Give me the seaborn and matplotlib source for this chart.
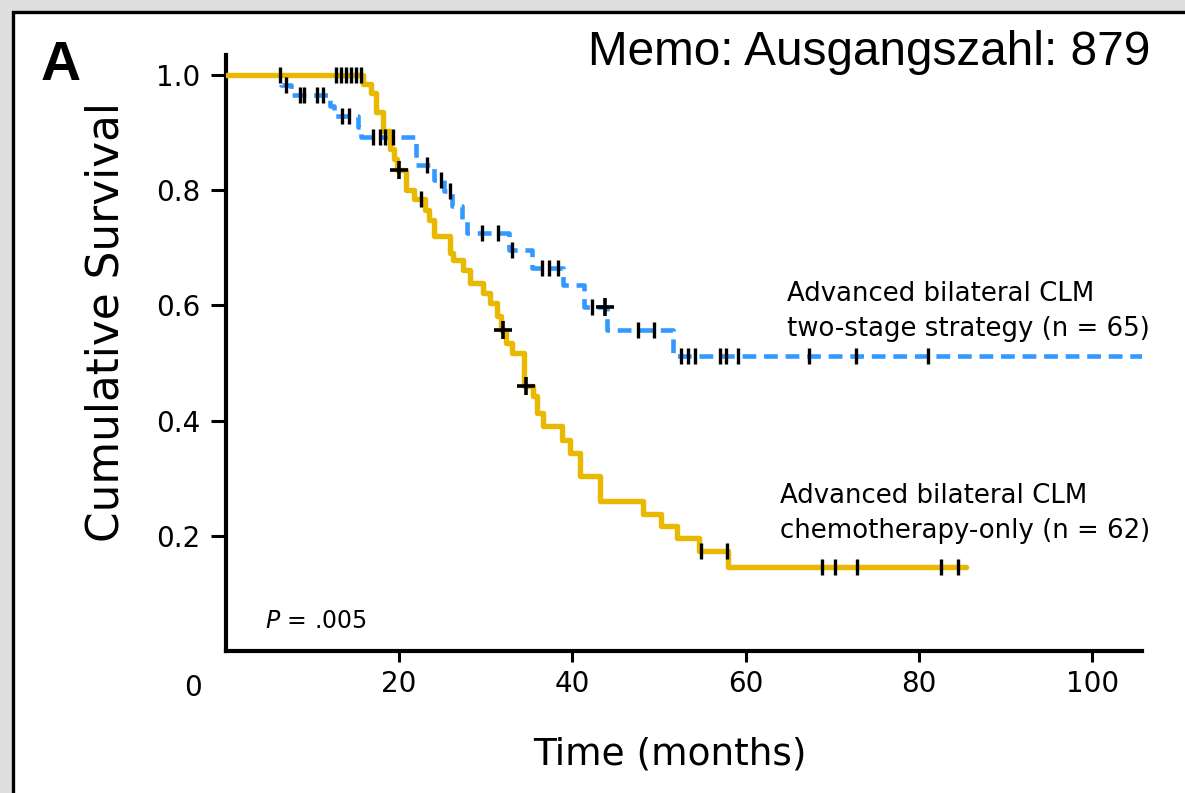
import numpy as np
import pandas as pd
import matplotlib
matplotlib.use("Agg")
import matplotlib.pyplot as plt
import seaborn as sns
from matplotlib.patches import Rectangle
from matplotlib.transforms import ScaledTranslation

# ---------------- data ----------------
chemo_times = [0, 15.9, 16.8, 17.4, 18.2, 19.0, 19.4, 19.8, 20.8, 21.7, 23.0, 23.5, 24.0,
               25.9, 26.3, 27.4, 28.2, 29.7, 30.5, 31.3, 31.8, 32.4, 33.0, 34.4,
               35.5, 35.9, 36.6, 38.8, 39.7, 40.9, 43.2, 48.2, 50.2, 52.1, 54.6, 58.0, 85.4]
chemo_surv = [1.0, 0.984, 0.968, 0.935, 0.903, 0.871, 0.855, 0.835, 0.800, 0.785, 0.765, 0.749, 0.720,
              0.691, 0.679, 0.662, 0.639, 0.622, 0.605, 0.581, 0.558, 0.535, 0.518, 0.460,
              0.443, 0.414, 0.391, 0.367, 0.344, 0.304, 0.261, 0.237, 0.217, 0.197, 0.174, 0.145, 0.145]
chemo_censor = [6.3, 12.7, 13.3, 13.9, 14.5, 15.1, 15.6, 22.6, 54.9, 57.9,
                68.8, 70.3, 72.8, 82.6, 84.5]
chemo_plus = [20.0, 32.0, 34.7]

twostage_times = [0, 6.4, 7.6, 12.0, 12.5, 15.3, 15.6, 22.0, 24.0, 25.2, 26.1, 27.3, 27.9,
                  32.7, 35.4, 38.9, 41.4, 44.0, 51.6, 105.8]
twostage_surv = [1.0, 0.982, 0.965, 0.947, 0.929, 0.910, 0.892, 0.844, 0.818, 0.798, 0.772, 0.749, 0.726,
                 0.697, 0.665, 0.636, 0.598, 0.558, 0.512, 0.512]
twostage_censor = [7.0, 8.6, 9.1, 10.6, 11.2, 13.4, 14.3, 17.0, 17.8, 18.4, 19.3, 23.3, 24.9, 25.9,
                   29.6, 31.4, 33.1, 36.5, 37.3, 38.4, 42.3, 47.6, 49.4, 52.5, 53.3, 54.2,
                   57.1, 57.7, 59.1, 67.3, 72.7, 81.0]
twostage_plus = [43.8]

x_ticks = [20, 40, 60, 80, 100]
y_ticks = [0.2, 0.4, 0.6, 0.8, 1.0]
y_ticklabels = ["0.2", "0.4", "0.6", "0.8", "1.0"]

label_two = ["Advanced bilateral CLM", "two-stage strategy (n = 65)"]
label_chemo = ["Advanced bilateral CLM", "chemotherapy-only (n = 62)"]

YELLOW = "#E8B900"
BLUE = "#3399FF"

# ---------------- style ----------------
sns.set_style("ticks")
plt.rcParams["font.family"] = ["DejaVu Sans"]
plt.rcParams["text.color"] = "black"
plt.rcParams["axes.labelcolor"] = "black"
plt.rcParams["xtick.color"] = "black"
plt.rcParams["ytick.color"] = "black"

W, H = 1185, 793
fig = plt.figure(figsize=(W / 100, H / 100), dpi=100)
fig.patch.set_facecolor("#dedede")
fig.patches.append(Rectangle((12.5 / W, -0.1), 1.2, (H - 12) / H + 0.1,
                             transform=fig.transFigure, facecolor="white",
                             edgecolor="black", linewidth=2.4, zorder=-5))

ax = fig.add_axes([225.5 / W, 1 - 651 / H, (1141.7 - 225.5) / W, (651 - 55) / H])
ax.set_zorder(2)
ax.patch.set_alpha(0)

def step_at(times, surv, t):
    idx = np.searchsorted(times, t, side="right") - 1
    return np.asarray(surv)[idx]

df_two = pd.DataFrame({"time": twostage_times, "surv": twostage_surv})
df_chemo = pd.DataFrame({"time": chemo_times, "surv": chemo_surv})

sns.lineplot(data=df_two, x="time", y="surv", ax=ax, color=BLUE, linewidth=3.3,
             drawstyle="steps-post", estimator=None, sort=False,
             linestyle=(0, (3.0, 1.7)), zorder=2)
sns.lineplot(data=df_chemo, x="time", y="surv", ax=ax, color=YELLOW, linewidth=3.9,
             drawstyle="steps-post", estimator=None, sort=False, zorder=3)

for times, surv, cens, plus in [(twostage_times, twostage_surv, twostage_censor, twostage_plus),
                                (chemo_times, chemo_surv, chemo_censor, chemo_plus)]:
    cy = step_at(times, surv, cens)
    ax.plot(cens, cy, linestyle="none", marker="|", markersize=11.5,
            markeredgewidth=2.4, color="black", zorder=5, clip_on=False)
    py = step_at(times, surv, plus)
    ax.plot(plus, py, linestyle="none", marker="+", markersize=13,
            markeredgewidth=2.6, color="black", zorder=5, clip_on=False)

ax.set_xlim(0, 105.7)
ax.set_ylim(0, 596 / 576)
ax.set_xticks(x_ticks)
ax.set_xticklabels([str(v) for v in x_ticks])
ax.set_yticks(y_ticks)
ax.set_yticklabels(y_ticklabels)
ax.tick_params(axis="both", direction="out", width=2.2, colors="black", labelsize=20)
ax.tick_params(axis="x", length=8, pad=6)
ax.tick_params(axis="y", length=11, pad=7)
sns.despine(ax=ax)
for s in ["left", "bottom"]:
    ax.spines[s].set_linewidth(3.0)
    ax.spines[s].set_color("black")

# "0" label at origin, offset to the left
ax.text(0, 0, "0", fontsize=20, ha="center", va="center", clip_on=False,
        transform=ax.transData + ScaledTranslation(-0.33, -0.37, fig.dpi_scale_trans))

ax.set_xlabel("Time (months)", fontsize=27, va="center")
ax.xaxis.set_label_coords((670 - 225.5) / 916.2, (651 - 755) / 596)
ax.set_ylabel("Cumulative Survival", fontsize=31.5, va="center")
ax.yaxis.set_label_coords((106 - 225.5) / 916.2, (651 - 322.5) / 596)

px = 8.67
ax.text((787 - 225.5) / px, (651 - 301) / 576, label_two[0], fontsize=18.7, va="baseline")
ax.text((787 - 225.5) / px, (651 - 336) / 576, label_two[1], fontsize=18.7, va="baseline")
ax.text((780 - 225.5) / px, (651 - 503.3) / 576, label_chemo[0], fontsize=18.7, va="baseline")
ax.text((780 - 225.5) / px, (651 - 538.3) / 576, label_chemo[1], fontsize=18.7, va="baseline")

ax.text((265 - 225.5) / px, (651 - 628.3) / 576, r"$\it{P}$ = .005", fontsize=17, va="baseline")

fig.text(1150 / W, 1 - 65 / H, "Memo: Ausgangszahl: 879", fontsize=34.4,
         family=["Liberation Sans", "DejaVu Sans"], ha="right", va="baseline")
fig.text(41 / W, 1 - 80 / H, "A", fontsize=40, fontweight="bold",
         family=["Liberation Sans", "DejaVu Sans"], ha="left", va="baseline")

fig.savefig("out.png", dpi=100, facecolor=fig.get_facecolor())
